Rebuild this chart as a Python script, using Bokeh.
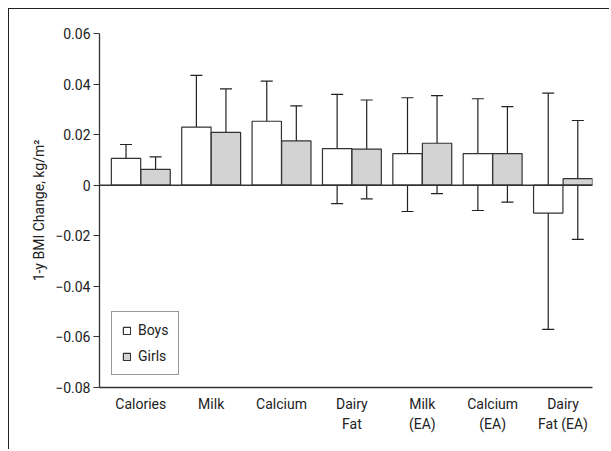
from bokeh.plotting import figure
from bokeh.models import (ColumnDataSource, Whisker, TeeHead, Span, FixedTicker,
                          CustomJSTickFormatter, Legend, LegendItem, Range1d)
from bokeh.embed import file_html
from bokeh.resources import INLINE

categories = ["Calories", "Milk", "Calcium", "Dairy\nFat", "Milk\n(EA)", "Calcium\n(EA)", "Dairy\nFat (EA)"]
boys = [0.0106, 0.0230, 0.0253, 0.0145, 0.0125, 0.0125, -0.0110]
boys_upper = [0.0161, 0.0434, 0.0412, 0.0359, 0.0346, 0.0342, 0.0364]
boys_lower = [0.0040, 0.0019, 0.0086, -0.0073, -0.0104, -0.0100, -0.0570]
girls = [0.0063, 0.0209, 0.0175, 0.0143, 0.0166, 0.0125, 0.0026]
girls_upper = [0.0112, 0.0381, 0.0314, 0.0337, 0.0354, 0.0311, 0.0256]
girls_lower = [0.0006, 0.0022, 0.0024, -0.0054, -0.0033, -0.0067, -0.0214]
y_ticks = [-0.08, -0.06, -0.04, -0.02, 0.0, 0.02, 0.04, 0.06]
series_names = ["Boys", "Girls"]

FONT = "Roboto"
OFF = 0.21
W = 0.417

idx = list(range(len(categories)))
src_b = ColumnDataSource(dict(x=[i - OFF for i in idx], top=boys, up=boys_upper, lo=boys_lower))
src_g = ColumnDataSource(dict(x=[i + OFF for i in idx], top=girls, up=girls_upper, lo=girls_lower))

p = figure(width=601, height=441, output_backend="svg", toolbar_location=None,
           x_range=Range1d(-0.587, len(categories) - 1 + 0.419),
           y_range=Range1d(y_ticks[0], y_ticks[-1]),
           min_border_left=90, min_border_right=18, min_border_top=24, min_border_bottom=63)
p.styles = {"margin-left": "8px", "margin-top": "8px",
            "border-top": "1.5px solid #222222", "border-left": "1.5px solid #222222"}
p.outline_line_color = None
p.xgrid.visible = False
p.ygrid.visible = False

rb = p.vbar(x="x", top="top", bottom=0, width=W, source=src_b,
            fill_color="white", line_color="#333333", line_width=1.2)
rg = p.vbar(x="x", top="top", bottom=0, width=W, source=src_g,
            fill_color="#d3d3d3", line_color="#333333", line_width=1.2)

p.add_layout(Span(location=0, dimension="width", line_color="#333333", line_width=1.4))

for src in (src_b, src_g):
    wk = Whisker(base="x", upper="up", lower="lo", source=src,
                 line_color="#222222", line_width=1.2,
                 upper_head=TeeHead(size=12, line_color="#222222", line_width=1.2),
                 lower_head=TeeHead(size=12, line_color="#222222", line_width=1.2))
    p.add_layout(wk)

# axes
p.yaxis.ticker = FixedTicker(ticks=y_ticks)
p.yaxis.formatter = CustomJSTickFormatter(code="""
    if (Math.abs(tick) < 1e-9) return "0";
    return (tick < 0 ? "\\u2212" : "") + Math.abs(tick).toFixed(2);
""")
p.yaxis.axis_label = "1-y BMI Change, kg/m\u00b2"
p.yaxis.axis_label_text_font_style = "normal"
p.yaxis.axis_label_text_font = FONT
p.yaxis.axis_label_text_font_size = "14px"
p.yaxis.axis_label_text_color = "#222222"
p.yaxis.axis_label_standoff = 5
p.yaxis.major_tick_out = 6
p.yaxis.major_tick_in = 0
p.yaxis.minor_tick_out = 0
p.yaxis.minor_tick_in = 0
p.yaxis.major_label_standoff = 3

p.xaxis.ticker = FixedTicker(ticks=idx)
p.xaxis.major_label_overrides = {i: c for i, c in zip(idx, categories)}
p.xaxis.major_tick_out = 0
p.xaxis.major_tick_in = 0
p.xaxis.minor_tick_out = 0
p.xaxis.minor_tick_in = 0
p.xaxis.major_label_standoff = 8
p.xaxis.major_label_text_line_height = 1.3

for ax in (p.xaxis, p.yaxis):
    ax.axis_line_color = "#333333"
    ax.axis_line_width = 1.3
    ax.major_tick_line_color = "#333333"
    ax.major_tick_line_width = 1.2
    ax.major_label_text_font = FONT
    ax.major_label_text_font_size = "14px"
    ax.major_label_text_color = "#222222"

legend = Legend(items=[LegendItem(label=series_names[0], renderers=[rb]),
                       LegendItem(label=series_names[1], renderers=[rg])],
                location=(12, 12))
legend.glyph_width = 9
legend.glyph_height = 9
legend.label_height = 14
legend.label_standoff = 7
legend.spacing = 10
legend.padding = 10
legend.margin = 0
legend.border_line_color = "#333333"
legend.border_line_width = 1.2
legend.label_text_font = FONT
legend.label_text_font_size = "14px"
legend.label_text_color = "#222222"
legend.background_fill_alpha = 1
p.add_layout(legend, "center")

open("out.html", "w").write(file_html(p, INLINE))
